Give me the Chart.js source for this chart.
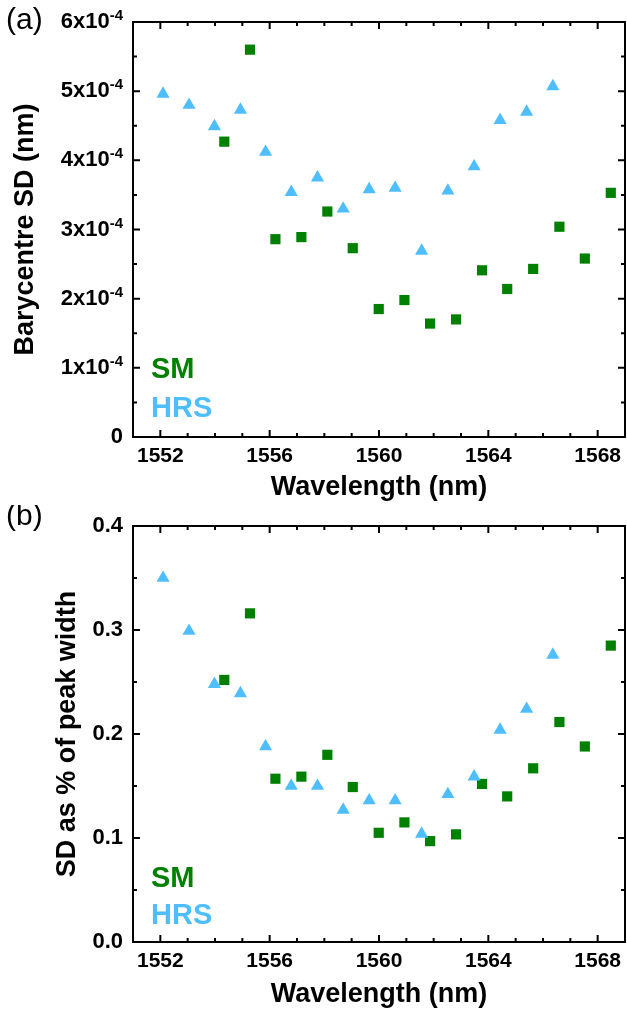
<!DOCTYPE html>
<html>
<head>
<meta charset="utf-8">
<script src="https://cdn.jsdelivr.net/npm/chart.js@4.4.1/dist/chart.umd.min.js"></script>
<style>
  html, body { margin: 0; padding: 0; background: #ffffff; }
  #wrap { position: relative; width: 627px; height: 1021px; }
  canvas { position: absolute; left: 0; }
  #chartTop { top: 0; }
  #chartBottom { top: 505px; }
</style>
</head>
<body>
<div id="wrap">
  <canvas id="chartTop" width="627" height="505"></canvas>
  <canvas id="chartBottom" width="627" height="516"></canvas>
</div>
<script>
// wavelengths (nm)
const hrsWavelength = [1552.10, 1553.05, 1553.98, 1554.93, 1555.85, 1556.79, 1557.75, 1558.69, 1559.64, 1560.59, 1561.56, 1562.52, 1563.48, 1564.43, 1565.40, 1566.36];
const smWavelength = [1554.34, 1555.28, 1556.21, 1557.16, 1558.11, 1559.04, 1559.99, 1560.93, 1561.87, 1562.82, 1563.77, 1564.69, 1565.64, 1566.60, 1567.53, 1568.48];

// (a) barycentre SD (nm)
const hrsBarySD = [4.96e-4, 4.80e-4, 4.49e-4, 4.73e-4, 4.12e-4, 3.54e-4, 3.75e-4, 3.30e-4, 3.58e-4, 3.60e-4, 2.69e-4, 3.56e-4, 3.91e-4, 4.58e-4, 4.70e-4, 5.07e-4];
const smBarySD = [4.27e-4, 5.60e-4, 2.86e-4, 2.89e-4, 3.26e-4, 2.73e-4, 1.85e-4, 1.98e-4, 1.64e-4, 1.70e-4, 2.41e-4, 2.14e-4, 2.43e-4, 3.04e-4, 2.58e-4, 3.53e-4];

// (b) SD as % of peak width
const hrsPctWidth = [0.350, 0.299, 0.248, 0.239, 0.188, 0.150, 0.150, 0.127, 0.136, 0.136, 0.104, 0.142, 0.159, 0.204, 0.224, 0.276];
const smPctWidth = [0.252, 0.316, 0.157, 0.159, 0.180, 0.149, 0.105, 0.115, 0.097, 0.1035, 0.152, 0.140, 0.167, 0.2115, 0.188, 0.285];

// ticks
const xTickValues = [1552, 1556, 1560, 1564, 1568];
const yTopTickValues = [0, 1e-4, 2e-4, 3e-4, 4e-4, 5e-4, 6e-4];
const yBottomTickValues = [0, 0.1, 0.2, 0.3, 0.4];

const SM_COLOR = "#008000";
const HRS_COLOR = "#4fbeff";
const FONT = "'Liberation Sans', Arial, Helvetica, sans-serif";

Chart.defaults.font.family = FONT;
Chart.defaults.color = "#000000";

function toPoints(xs, ys) {
  return xs.map((x, i) => ({ x: x, y: ys[i] }));
}

function minorValues(min, max, step, majors) {
  const out = [];
  for (let v = min; v <= max + step / 10; v += step) {
    const r = Math.round(v * 1e6) / 1e6;
    if (!majors.some((m) => Math.abs(m - r) < step / 10)) out.push(r);
  }
  return out;
}

// frame, inward ticks, legend text and panel letter
const framePlugin = {
  id: "frame",
  afterDraw(chart, args, opts) {
    const { ctx, chartArea } = chart;
    const { left, right, top, bottom } = chartArea;
    const xs = chart.scales.x;
    const ys = chart.scales.y;
    ctx.save();
    ctx.strokeStyle = "#000000";
    ctx.lineWidth = 2;
    ctx.strokeRect(left, top, right - left, bottom - top);

    ctx.beginPath();
    const xMinor = minorValues(1551, 1569, 1, xTickValues);
    xTickValues.forEach((v) => {
      const px = xs.getPixelForValue(v);
      ctx.moveTo(px, bottom); ctx.lineTo(px, bottom - 7);
      ctx.moveTo(px, top); ctx.lineTo(px, top + 7);
    });
    xMinor.forEach((v) => {
      const px = xs.getPixelForValue(v);
      ctx.moveTo(px, bottom); ctx.lineTo(px, bottom - 4);
      ctx.moveTo(px, top); ctx.lineTo(px, top + 4);
    });
    opts.yMajors.forEach((v) => {
      const py = ys.getPixelForValue(v);
      ctx.moveTo(left, py); ctx.lineTo(left + 7, py);
      ctx.moveTo(right, py); ctx.lineTo(right - 7, py);
    });
    opts.yMinors.forEach((v) => {
      const py = ys.getPixelForValue(v);
      ctx.moveTo(left, py); ctx.lineTo(left + 4, py);
      ctx.moveTo(right, py); ctx.lineTo(right - 4, py);
    });
    ctx.stroke();

    // custom y labels with exponent (panel a)
    if (opts.expLabels) {
      ctx.textBaseline = "middle";
      ctx.textAlign = "right";
      ctx.fillStyle = "#000000";
      opts.yMajors.forEach((v) => {
        const py = ys.getPixelForValue(v);
        const xr = left - 10;
        if (v === 0) {
          ctx.font = "bold 22px " + FONT;
          ctx.fillText("0", xr, py);
          return;
        }
        ctx.font = "bold 15px " + FONT;
        ctx.fillText("-4", xr, py - 6);
        const supW = ctx.measureText("-4").width;
        ctx.font = "bold 22px " + FONT;
        ctx.fillText(Math.round(v / 1e-4) + "x10", xr - supW, py);
      });
    }

    // legend text
    ctx.textAlign = "left";
    ctx.textBaseline = "alphabetic";
    ctx.font = "bold 29px " + FONT;
    ctx.fillStyle = SM_COLOR;
    ctx.fillText("SM", left + 18, bottom - opts.smOffset);
    ctx.fillStyle = HRS_COLOR;
    ctx.fillText("HRS", left + 18, bottom - opts.hrsOffset);

    // panel letter
    ctx.font = "30px " + FONT;
    ctx.fillStyle = "#000000";
    ctx.fillText(opts.letter, 6, opts.letterY);
    ctx.restore();
  }
};

function buildChart(canvasId, cfg) {
  const ctx = document.getElementById(canvasId).getContext("2d");
  return new Chart(ctx, {
    type: "scatter",
    data: {
      datasets: [
        {
          label: "HRS",
          data: toPoints(hrsWavelength, cfg.hrs),
          pointStyle: "triangle",
          pointRadius: 7.6,
          backgroundColor: HRS_COLOR,
          borderColor: HRS_COLOR,
          borderWidth: 0
        },
        {
          label: "SM",
          data: toPoints(smWavelength, cfg.sm),
          pointStyle: "rect",
          pointRadius: 7.2,
          backgroundColor: SM_COLOR,
          borderColor: SM_COLOR,
          borderWidth: 0
        }
      ]
    },
    options: {
      responsive: false,
      animation: false,
      layout: { autoPadding: false, padding: { top: cfg.padTop, right: 2, left: 0, bottom: 0 } },
      plugins: {
        legend: { display: false },
        tooltip: { enabled: false },
        frame: cfg.frame
      },
      scales: {
        x: {
          type: "linear",
          min: 1551,
          max: 1569,
          grid: { display: false, drawTicks: false },
          border: { display: false },
          afterBuildTicks: (axis) => {
            axis.ticks = xTickValues.map((v) => ({ value: v }));
          },
          afterFit: (axis) => {
            axis.height = cfg.xAxisHeight;
            axis.paddingLeft = 0;
            axis.paddingRight = 0;
          },
          ticks: {
            padding: 7,
            maxRotation: 0,
            autoSkip: false,
            font: { size: 21, weight: "bold" },
            callback: (v) => String(v)
          },
          title: {
            display: true,
            text: "Wavelength (nm)",
            font: { size: 27, weight: "bold" },
            padding: { top: 0, bottom: cfg.xTitlePad }
          }
        },
        y: {
          type: "linear",
          min: cfg.yMin,
          max: cfg.yMax,
          grid: { display: false, drawTicks: false },
          border: { display: false },
          afterBuildTicks: (axis) => {
            axis.ticks = cfg.yTicks.map((v) => ({ value: v }));
          },
          afterFit: (axis) => {
            axis.width = 133;
            axis.paddingTop = 0;
            axis.paddingBottom = 0;
          },
          ticks: {
            display: !cfg.frame.expLabels,
            padding: 10,
            font: { size: 22, weight: "bold" },
            callback: (v) => v.toFixed(1)
          },
          title: {
            display: true,
            text: cfg.yTitle,
            font: { size: 27, weight: "bold" },
            padding: { top: cfg.yTitlePad, bottom: 0 }
          }
        }
      }
    },
    plugins: [framePlugin]
  });
}

buildChart("chartTop", {
  hrs: hrsBarySD,
  sm: smBarySD,
  yMin: 0,
  yMax: 6e-4,
  yTicks: yTopTickValues,
  yTitle: "Barycentre SD (nm)",
  yTitlePad: 9,
  padTop: 22,
  xAxisHeight: 68,
  xTitlePad: 1,
  frame: {
    yMajors: yTopTickValues,
    yMinors: [0.5e-4, 1.5e-4, 2.5e-4, 3.5e-4, 4.5e-4, 5.5e-4],
    expLabels: true,
    smOffset: 59,
    hrsOffset: 20,
    letter: "(a)",
    letterY: 29
  }
});

buildChart("chartBottom", {
  hrs: hrsPctWidth,
  sm: smPctWidth,
  yMin: 0,
  yMax: 0.4,
  yTicks: yBottomTickValues,
  yTitle: "SD as % of peak width",
  yTitlePad: 51,
  padTop: 21,
  xAxisHeight: 79,
  xTitlePad: 10,
  frame: {
    yMajors: yBottomTickValues,
    yMinors: [0.05, 0.15, 0.25, 0.35],
    expLabels: false,
    smOffset: 55,
    hrsOffset: 18,
    letter: "(b)",
    letterY: 20
  }
});
</script>
</body>
</html>
